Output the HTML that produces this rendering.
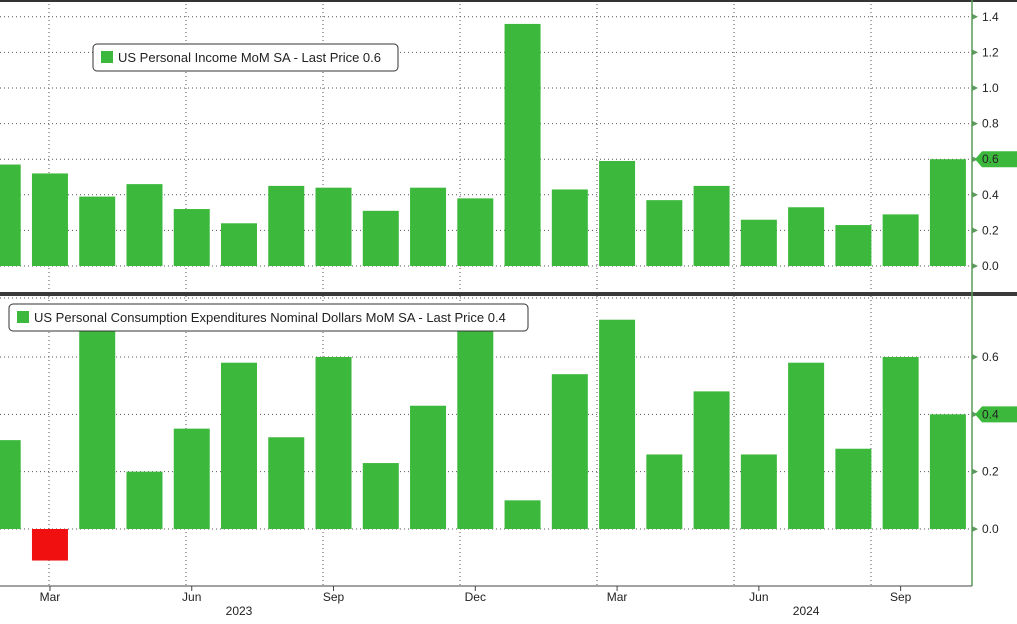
<!DOCTYPE html>
<html><head><meta charset="utf-8"><style>
body{margin:0;background:#fff;font-family:"Liberation Sans",sans-serif}
svg text{font-family:"Liberation Sans",sans-serif;font-size:12px;fill:#222}
</style></head><body>
<svg id="c" width="1017" height="619"></svg>
<script>
const months=["Feb","Mar","Apr","May","Jun","Jul","Aug","Sep","Oct","Nov","Dec","Jan","Feb","Mar","Apr","May","Jun","Jul","Aug","Sep","Oct"];
const incomeValues=[0.57,0.52,0.39,0.46,0.32,0.24,0.45,0.44,0.31,0.44,0.38,1.36,0.43,0.59,0.37,0.45,0.26,0.33,0.23,0.29,0.6];
const pceValues=[0.31,-0.11,0.7,0.2,0.35,0.58,0.32,0.6,0.23,0.43,0.7,0.1,0.54,0.73,0.26,0.48,0.26,0.58,0.28,0.6,0.4];
const incomeTicks=[0,0.2,0.4,0.6,0.8,1.0,1.2,1.4];
const pceTicks=[0,0.2,0.4,0.6];
const xLabels=[["Mar",1],["Jun",4],["Sep",7],["Dec",10],["Mar",13],["Jun",16],["Sep",19]];
const yearLabels=[["2023",5],["2024",17]];
const svg=document.getElementById('c');const NS='http://www.w3.org/2000/svg';
function el(t,a,p){const e=document.createElementNS(NS,t);for(const k in a)e.setAttribute(k,a[k]);(p||svg).appendChild(e);return e;}
const xC=i=>2.7+i*47.26, bw=36;
const yTop=v=>266-v*178, yBot=v=>529-v*286.7;
const axisX=972;
for(let i=0;i<7;i++){const g=el('line',{x1:49+i*137,x2:49+i*137,y1:0,y2:586,stroke:'#555','stroke-dasharray':'1,3'});

}
incomeTicks.forEach(t=>{const y=yTop(t);const g=el('line',{x1:0,x2:axisX,y1:y,y2:y,stroke:'#555','stroke-dasharray':'1,3'});


el('path',{d:`M${axisX} ${y-3}L${axisX+6} ${y}L${axisX} ${y+3}Z`,fill:'#5a9a5a'});
const tx=el('text',{x:982,y:y+4});tx.textContent=t.toFixed(1);

});
pceTicks.forEach(t=>{const y=yBot(t);const g=el('line',{x1:0,x2:axisX,y1:y,y2:y,stroke:'#555','stroke-dasharray':'1,3'});


el('path',{d:`M${axisX} ${y-3}L${axisX+6} ${y}L${axisX} ${y+3}Z`,fill:'#5a9a5a'});
const tx=el('text',{x:982,y:y+4});tx.textContent=t.toFixed(1);

});
el('line',{x1:0,x2:axisX,y1:298,y2:298,stroke:'#555','stroke-dasharray':'1,3'});
incomeValues.forEach((v,i)=>{const x=xC(i)-bw/2;const r=el('rect',{x:x,y:Math.min(yTop(v),yTop(0)),width:bw,height:Math.abs(yTop(v)-yTop(0)),fill:'#3cb93c'});

});
pceValues.forEach((v,i)=>{const x=xC(i)-bw/2;const r=el('rect',{x:x,y:Math.min(yBot(v),yBot(0)),width:bw,height:Math.abs(yBot(v)-yBot(0)),fill:v<0?'#f01010':'#3cb93c'});

});
el('rect',{x:0,y:0,width:1017,height:2,fill:'#333'});
el('rect',{x:0,y:292,width:1017,height:4,fill:'#3a3a3a'});
el('line',{x1:axisX,x2:axisX,y1:0,y2:586,stroke:'#5a9a5a','stroke-width':1.5});
el('line',{x1:0,x2:axisX,y1:586,y2:586,stroke:'#444'});
[[yTop(0.6),'0.6'],[yBot(0.4),'0.4']].forEach(([y,t])=>{const p=el('path',{d:`M${axisX+3} ${y}L${axisX+10} ${y-8}H1017V${y+8}H${axisX+10}Z`,fill:'#3cb93c'});


const tx=el('text',{x:982,y:y+4});tx.textContent=t;});
xLabels.forEach(([l,i])=>{const x=xC(i);el('line',{x1:x,x2:x,y1:586,y2:591,stroke:'#444'});
const tx=el('text',{x:x,y:601,'text-anchor':'middle'});tx.textContent=l;

});
yearLabels.forEach(([l,i])=>{const tx=el('text',{x:xC(i),y:615,'text-anchor':'middle'});tx.textContent=l;

});
function legend(x,y,w,txt,name){const g=el('g',{});
el('rect',{x:x,y:y,width:w,height:27,rx:4,fill:'#fff',stroke:'#333'},g);
el('rect',{x:x+8,y:y+7,width:12,height:12,fill:'#3cb93c'},g);
const t=el('text',{x:x+25,y:y+18,style:'font-size:13px'},g);t.textContent=txt;}
legend(93,44,305,'US Personal Income MoM SA - Last Price 0.6','income-legend');
legend(9,304,519,'US Personal Consumption Expenditures Nominal Dollars MoM SA - Last Price 0.4','pce-legend');
</script>
</body></html>
